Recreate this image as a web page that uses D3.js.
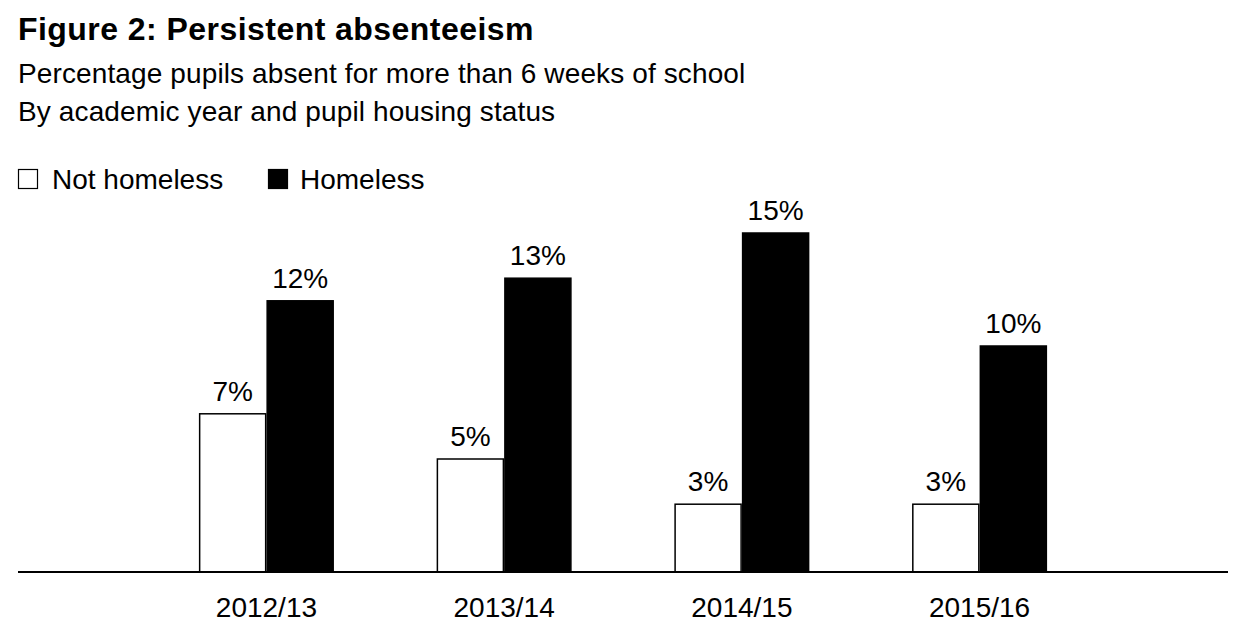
<!DOCTYPE html>
<html>
<head>
<meta charset="utf-8">
<script src="https://cdn.jsdelivr.net/npm/d3@7"></script>
<style>
    body { margin: 0; background: #fff; }
    svg text { font-family: "Liberation Sans", Arial, Helvetica, sans-serif; fill: #000; }
</style>
</head>
<body>
<svg id="chart"></svg>
<script>
const years = ['2012/13', '2013/14', '2014/15', '2015/16'];
const series = ['Not homeless', 'Homeless'];
const notHomeless = [7, 5, 3, 3];
const homeless = [12, 13, 15, 10];

const width = 1242;
const height = 636;

const svg = d3.select('#chart')
    .attr('width', width)
    .attr('height', height);

// titles
svg.append('text')
    .attr('x', 18).attr('y', 40)
    .style('font-size', '32px').style('font-weight', 'bold')
    .style('letter-spacing', '0.45px')
    .text('Figure 2: Persistent absenteeism');
svg.append('text')
    .attr('x', 18).attr('y', 83)
    .style('font-size', '28px')
    .style('letter-spacing', '0.12px')
    .text('Percentage pupils absent for more than 6 weeks of school');
svg.append('text')
    .attr('x', 18).attr('y', 121)
    .style('font-size', '28px')
    .style('letter-spacing', '0.12px')
    .text('By academic year and pupil housing status');

const color = d3.scaleOrdinal().domain(series).range(['#fff', '#000']);

// legend
const legend = svg.append('g').attr('transform', 'translate(18,169)');
const legendX = [0, 250];
series.forEach((s, i) => {
    const g = legend.append('g').attr('transform', `translate(${legendX[i]},0)`);
    g.append('rect')
        .attr('x', 0.5).attr('y', 0.5)
        .attr('width', 19).attr('height', 19)
        .attr('fill', color(s))
        .attr('stroke', '#000').attr('stroke-width', 1.2);
    g.append('text')
        .attr('x', i === 0 ? 34 : 32).attr('y', 20)
        .style('font-size', '28px')
        .text(s);
});

const margin = { left: 18, right: 14, baseline: 572 };

const x0 = d3.scaleBand()
    .domain(years)
    .range([margin.left, width - margin.right])
    .paddingInner(0.432)
    .paddingOuter(0.761);

const x1 = d3.scaleBand()
    .domain(series)
    .range([0, x0.bandwidth()]);

const y = d3.scaleLinear()
    .domain([0, 15])
    .range([margin.baseline, 233]);

const data = years.map((yr, i) => ({
    year: yr,
    values: [
        { key: 'Not homeless', value: notHomeless[i] },
        { key: 'Homeless', value: homeless[i] }
    ]
}));

const groups = svg.append('g')
    .selectAll('g')
    .data(data)
    .join('g')
    .attr('transform', (d) => `translate(${x0(d.year)},0)`);

groups.selectAll('rect')
    .data((d) => d.values)
    .join('rect')
    .attr('x', (d) => x1(d.key) + 0.75)
    .attr('y', (d) => y(d.value))
    .attr('width', x1.bandwidth() - 1.5)
    .attr('height', (d) => y(0) - y(d.value))
    .attr('fill', (d) => color(d.key))
    .attr('stroke', '#000')
    .attr('stroke-width', 1.5);

groups.selectAll('text')
    .data((d) => d.values)
    .join('text')
    .attr('x', (d) => x1(d.key) + x1.bandwidth() / 2)
    .attr('y', (d) => y(d.value) - 13)
    .attr('text-anchor', 'middle')
    .style('font-size', '28px')
    .text((d) => d.value + '%');

// baseline axis
const xAxis = svg.append('g')
    .attr('transform', `translate(0,${margin.baseline})`)
    .call(d3.axisBottom(x0).tickSize(0).tickPadding(25));
xAxis.select('.domain')
    .attr('d', `M${margin.left},0H${width - margin.right}`)
    .attr('stroke', '#000')
    .attr('stroke-width', 2);
xAxis.selectAll('.tick text')
    .style('font-size', '28px')
    .style('font-family', '"Liberation Sans", Arial, sans-serif')
    .attr('fill', '#000');
</script>
</body>
</html>
